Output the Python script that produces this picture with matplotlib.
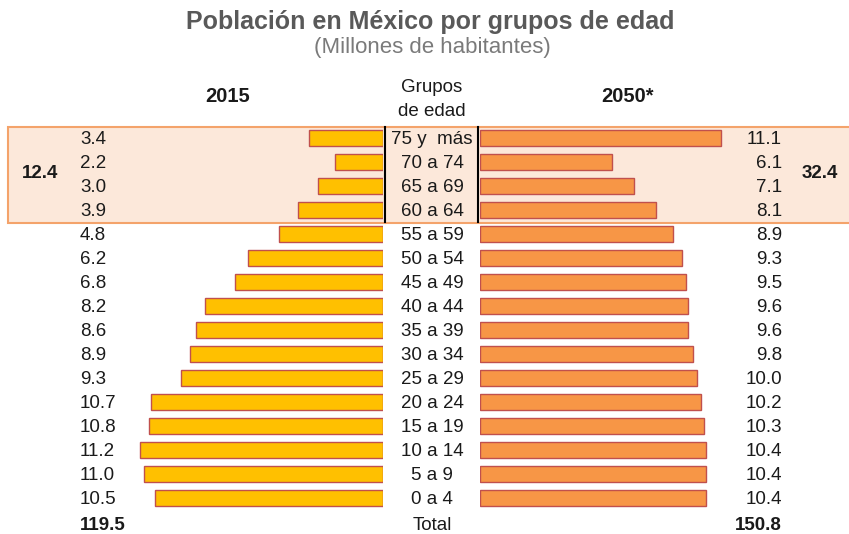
import matplotlib
matplotlib.use("Agg")
import matplotlib.pyplot as plt
from matplotlib.patches import Rectangle

plt.rcParams['font.family'] = ['Liberation Sans', 'DejaVu Sans']

groups = ["75 y  más", "70 a 74", "65 a 69", "60 a 64", "55 a 59", "50 a 54", "45 a 49",
          "40 a 44", "35 a 39", "30 a 34", "25 a 29", "20 a 24", "15 a 19", "10 a 14",
          "5 a 9", "0 a 4"]
pop_2015 = [3.4, 2.2, 3.0, 3.9, 4.8, 6.2, 6.8, 8.2, 8.6, 8.9, 9.3, 10.7, 10.8, 11.2, 11.0, 10.5]
pop_2050 = [11.1, 6.1, 7.1, 8.1, 8.9, 9.3, 9.5, 9.6, 9.6, 9.8, 10.0, 10.2, 10.3, 10.4, 10.4, 10.4]
old_2015 = "12.4"
old_2050 = "32.4"
total_2015 = "119.5"
total_2050 = "150.8"

W, H = 849, 534
fig = plt.figure(figsize=(W / 100, H / 100), dpi=100)
fig.patch.set_facecolor("white")

# background axes in pixel coordinates
bg = fig.add_axes([0, 0, 1, 1])
bg.set_xlim(0, W)
bg.set_ylim(H, 0)
bg.axis("off")

# highlight box for 60+
bg.add_patch(Rectangle((8, 126.5), 845, 96, facecolor="#FCE8DA", edgecolor="#F4A36B", lw=1.5, zorder=0))
bg.plot([385, 385], [127, 222], color="black", lw=1.5, zorder=3)
bg.plot([478, 478], [127, 222], color="black", lw=1.5, zorder=3)

y0, dy = 138, 24
n = len(groups)
ylim = ((H - y0) / dy, -y0 / dy)

scale = 21.7  # px per million
left_x0, left_x1 = 30, 383
right_x0, right_x1 = 480, 849
axL = fig.add_axes([left_x0 / W, 0, (left_x1 - left_x0) / W, 1])
axR = fig.add_axes([right_x0 / W, 0, (right_x1 - right_x0) / W, 1])
axL.set_xlim((left_x1 - left_x0) / scale, 0)
axR.set_xlim(0, (right_x1 - right_x0) / scale)
for ax in (axL, axR):
    ax.set_ylim(*ylim)
    ax.axis("off")
    ax.patch.set_alpha(0)

rows = list(range(n))
axL.barh(rows, pop_2015, height=0.7, color="#FFC000", edgecolor="#C0504D", linewidth=1.0, zorder=2)
axR.barh(rows, pop_2050, height=0.7, color="#F79646", edgecolor="#C0504D", linewidth=1.0, zorder=2)

fs = 13.5
txt = "#1a1a1a"
for i in rows:
    y = y0 + dy * i + 2
    bg.text(80, y, f"{pop_2015[i]:.1f}", ha="left", va="center", fontsize=fs, color=txt, zorder=4)
    bg.text(782, y, f"{pop_2050[i]:.1f}", ha="right", va="center", fontsize=fs, color=txt, zorder=4)
    bg.text(432, y, groups[i], ha="center", va="center", fontsize=fs, color=txt, zorder=4)

yt = 526
bg.text(80, yt, total_2015, ha="left", va="center", fontsize=fs, fontweight="bold", color=txt)
bg.text(432, yt, "Total", ha="center", va="center", fontsize=fs, color=txt)
bg.text(782, yt, total_2050, ha="right", va="center", fontsize=fs, fontweight="bold", color=txt)

bg.text(22, 173, old_2015, ha="left", va="center", fontsize=fs, fontweight="bold", color=txt, zorder=4)
bg.text(838, 173, old_2050, ha="right", va="center", fontsize=fs, fontweight="bold", color=txt, zorder=4)

bg.text(228, 97, "2015", ha="center", va="center", fontsize=fs + 1, fontweight="bold", color=txt)
bg.text(628, 97, "2050*", ha="center", va="center", fontsize=fs + 1, fontweight="bold", color=txt)
bg.text(432, 88, "Grupos", ha="center", va="center", fontsize=fs, color=txt)
bg.text(432, 112, "de edad", ha="center", va="center", fontsize=fs, color=txt)

bg.text(430, 22, "Población en México por grupos de edad", ha="center", va="center",
        fontsize=18, fontweight="bold", color="#595959")
bg.text(432, 48, "(Millones de habitantes)", ha="center", va="center",
        fontsize=16, color="#7a7a7a")

fig.savefig("out.png", dpi=100)
